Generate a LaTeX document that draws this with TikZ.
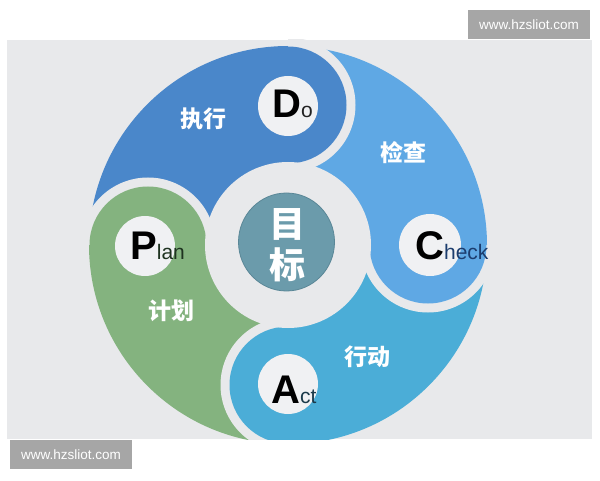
\documentclass[tikz,border=0pt]{standalone}
\usepackage{fontspec}
\setmainfont{Liberation Sans}
\newfontfamily\cjk{Noto Sans CJK SC}
\definecolor{bgc}{HTML}{E8E9EB}
\definecolor{doc}{HTML}{4A87CA}
\definecolor{chc}{HTML}{5FA8E4}
\definecolor{acc}{HTML}{4BADD7}
\definecolor{plc}{HTML}{84B37F}
\definecolor{wcirc}{HTML}{F0F1F3}
\definecolor{teal}{HTML}{6B9BAB}
\definecolor{tealb}{HTML}{5A8797}
\definecolor{wmc}{HTML}{A6A6A6}
\begin{document}
\begin{tikzpicture}[x=1pt,y=1pt,
  lab/.style={font=\cjk\bfseries\fontsize{23}{23}\selectfont, text=white, inner sep=0pt},
  letter/.style={anchor=base west, inner sep=0pt},
  wm/.style={fill=wmc, text=white, minimum width=122pt, minimum height=29pt, inner sep=0pt,
    font=\fontsize{13.5}{13.5}\selectfont}]
\useasboundingbox (0,0) rectangle (600,480);
\fill[white] (0,0) rectangle (600,480);
\fill[bgc] (7,41) rectangle (592,440);
\begin{scope}
\clip (7,41) rectangle (592,440);
\coordinate (O) at (288,235);
% wedges
\fill[doc] (O) -- ++(90:199) arc[start angle=90,end angle=180,radius=199] -- cycle;
\fill[chc] (O) -- ++(0:199) arc[start angle=0,end angle=90,radius=199] -- cycle;
\fill[acc] (O) -- ++(270:199) arc[start angle=270,end angle=360,radius=199] -- cycle;
\fill[plc] (O) -- ++(180:199) arc[start angle=180,end angle=270,radius=199] -- cycle;
% head centres
\coordinate (hD) at (288,375);
\coordinate (hC) at (428,235);
\coordinate (hA) at (288,95);
\coordinate (hP) at (148,235);
% gaps
\fill[bgc] (hD) ++(90:67.5) arc[start angle=90,end angle=-90,radius=67.5] -- cycle;
\fill[bgc] (hC) ++(0:67.5) arc[start angle=0,end angle=-180,radius=67.5] -- cycle;
\fill[bgc] (hA) ++(270:67.5) arc[start angle=270,end angle=90,radius=67.5] -- cycle;
\fill[bgc] (hP) ++(180:67.5) arc[start angle=180,end angle=0,radius=67.5] -- cycle;
% heads
\fill[doc] (hD) circle[radius=58.5];
\fill[chc] (hC) circle[radius=58.5];
\fill[acc] (hA) circle[radius=58.5];
\fill[plc] (hP) circle[radius=58.5];
% centre
\fill[bgc] (O) circle[radius=83];
\fill[teal, draw=tealb, line width=0.8pt] (286.5,238) ellipse[x radius=48, y radius=49];
% letter circles
\fill[wcirc] (288,374) circle[radius=30];
\fill[wcirc] (430,235) circle[radius=31];
\fill[wcirc] (288,96) circle[radius=30];
\fill[wcirc] (145,234) circle[radius=30];
\end{scope}
% letters
\node[letter] (lD) at (272,362) {{\fontsize{40}{40}\selectfont\bfseries D}{\fontsize{21}{21}\selectfont\color[HTML]{222222}o}};
\node[letter] (lC) at (415,220) {{\fontsize{40}{40}\selectfont\bfseries C}{\fontsize{21}{21}\selectfont\color[HTML]{1C3D6E}heck}};
\node[letter] (lP) at (130,220) {{\fontsize{40}{40}\selectfont\bfseries P}{\fontsize{21}{21}\selectfont\color[HTML]{1E3320}lan}};
\node[letter] (lA) at (271,77) {{\fontsize{40}{40}\selectfont\bfseries A}{\fontsize{21}{21}\selectfont\color[HTML]{1B3A4A}ct}};
% chinese labels
\node[lab] (tD) at (203.5,361) {执行};
\node[lab] (tC) at (403.5,327.5) {检查};
\node[lab] (tP) at (171.5,169.5) {计划};
\node[lab] (tA) at (367.5,123) {行动};
\node[font=\cjk\bfseries\fontsize{36}{41}\selectfont, text=white, align=center, inner sep=0pt] (goal) at (287,235) {目\\标};
% watermarks
\node[wm] (wm1) at (529,455.5) {www.hzsliot.com};
\node[wm] (wm2) at (71,25.5) {www.hzsliot.com};
\end{tikzpicture}
\end{document}
